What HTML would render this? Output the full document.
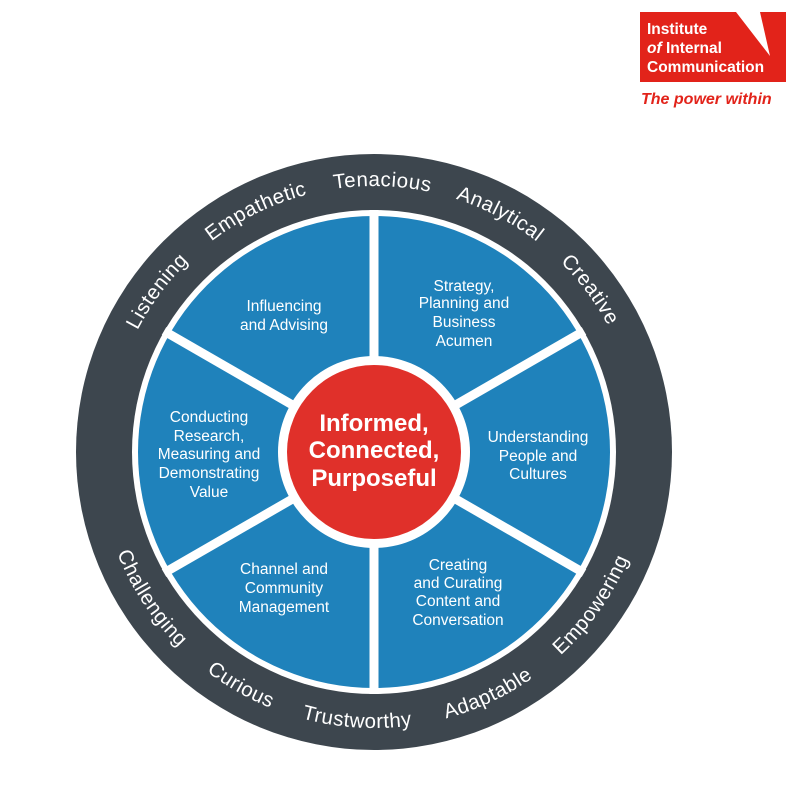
<!DOCTYPE html>
<html><head><meta charset="utf-8"><style>
html,body{margin:0;padding:0;background:#fff;width:808px;height:786px;overflow:hidden}
svg{display:block}
text{font-family:"Liberation Sans","DejaVu Sans",sans-serif}
</style></head><body>
<svg width="808" height="786" viewBox="0 0 808 786">
<polygon points="640,12 736,12 770,56 760,12 786,12 786,82 640,82" fill="#e2231a"/>
<text x="647" y="34" fill="#fff" font-size="15.5" font-weight="bold">Institute</text>
<text x="647" y="53" fill="#fff" font-size="15.5" font-weight="bold"><tspan font-style="italic">of</tspan> Internal</text>
<text x="647" y="72" fill="#fff" font-size="15.5" font-weight="bold">Communication</text>
<text x="641" y="104" fill="#e2231a" font-size="16" font-weight="bold" font-style="italic">The power within</text>

<circle cx="374" cy="452" r="298" fill="#3d464e"/>
<circle cx="374" cy="452" r="242" fill="#fff"/>
<circle cx="374" cy="452" r="236" fill="#1f82bb"/>
<g stroke="#fff" stroke-width="9">
<line x1="374" y1="210" x2="374" y2="694"/>
<line x1="164" y1="331" x2="584" y2="573"/>
<line x1="164" y1="573" x2="584" y2="331"/>
</g>
<circle cx="374" cy="452" r="96" fill="#fff"/>
<circle cx="374" cy="452" r="87" fill="#e0302a"/>
<g fill="#fff" font-size="24" font-weight="bold" text-anchor="middle">
<text x="374" y="431">Informed,</text>
<text x="374" y="458">Connected,</text>
<text x="374" y="486">Purposeful</text>
</g>
<g fill="#fff" font-size="15.5" text-anchor="middle">
<text x="284" y="311">Influencing</text><text x="284" y="330">and Advising</text>
<text x="464" y="291">Strategy,</text><text x="464" y="308">Planning and</text><text x="464" y="327">Business</text><text x="464" y="346">Acumen</text>
<text x="538" y="442">Understanding</text><text x="538" y="461">People and</text><text x="538" y="479">Cultures</text>
<text x="209" y="422">Conducting</text><text x="209" y="441">Research,</text><text x="209" y="459">Measuring and</text><text x="209" y="478">Demonstrating</text><text x="209" y="497">Value</text>
<text x="284" y="574">Channel and</text><text x="284" y="593">Community</text><text x="284" y="612">Management</text>
<text x="458" y="570">Creating</text><text x="458" y="588">and Curating</text><text x="458" y="606">Content and</text><text x="458" y="625">Conversation</text>
</g>
<defs>
<path id="top" d="M108,452 A266,266 0 0 1 640,452"/>
<path id="bot" d="M98,452 A276,276 0 0 0 650,452"/>
</defs>
<g fill="#fff" font-size="20.5" text-anchor="middle" letter-spacing="0.5">
<text><textPath href="#top" startOffset="20.3%">Listening</textPath></text>
<text><textPath href="#top" startOffset="35.5%">Empathetic</textPath></text>
<text><textPath href="#top" startOffset="51%">Tenacious</textPath></text>
<text><textPath href="#top" startOffset="65.5%">Analytical</textPath></text>
<text><textPath href="#top" startOffset="79.5%">Creative</textPath></text>
<text><textPath href="#bot" startOffset="18.5%">Challenging</textPath></text>
<text><textPath href="#bot" startOffset="33.5%">Curious</textPath></text>
<text><textPath href="#bot" startOffset="48%">Trustworthy</textPath></text>
<text><textPath href="#bot" startOffset="64%">Adaptable</textPath></text>
<text><textPath href="#bot" startOffset="80.5%">Empowering</textPath></text>
</g>
</svg>
</body></html>
